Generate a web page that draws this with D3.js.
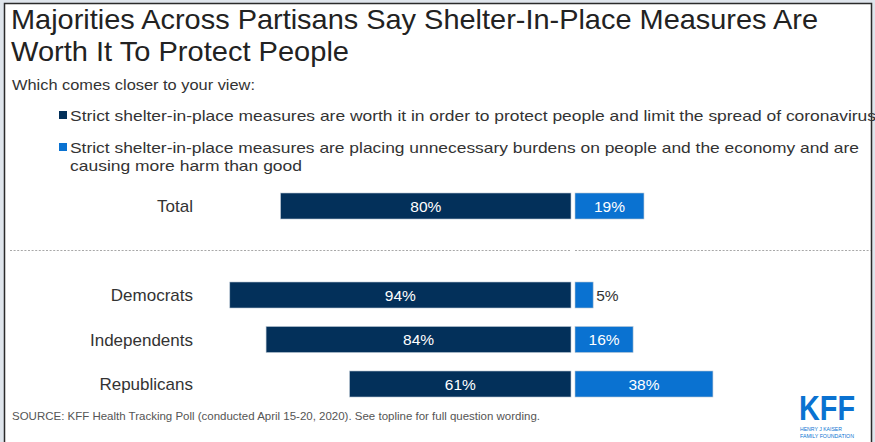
<!DOCTYPE html>
<html><head><meta charset="utf-8">
<script src="https://cdn.jsdelivr.net/npm/d3@7"></script>
<style>
html,body{margin:0;padding:0;background:#dfe5ec;}
svg{display:block;font-family:"Liberation Sans",Arial,sans-serif;}
</style></head>
<body>
<script>
const categories = ["Total", "Democrats", "Independents", "Republicans"];
const worthIt = [80, 94, 84, 61];
const burdens = [19, 5, 16, 38];
const seriesNames = [
  "Strict shelter-in-place measures are worth it in order to protect people and limit the spread of coronavirus",
  "Strict shelter-in-place measures are placing unnecessary burdens on people and the economy and are",
  "causing more harm than good"
];
const titleLines = ["Majorities Across Partisans Say Shelter-In-Place Measures Are", "Worth It To Protect People"];
const subtitle = "Which comes closer to your view:";
const source = "SOURCE: KFF Health Tracking Poll (conducted April 15-20, 2020). See topline for full question wording.";

const W = 875, H = 442;
const dark = "#03305a", light = "#0a72d1";
const svg = d3.select("body").append("svg").attr("width", W).attr("height", H);

// frame
svg.append("rect").attr("x", 4).attr("y", 3).attr("width", 868).attr("height", H).attr("fill", "#fff");
svg.append("path").attr("d", "M4.5,442 V3.5 H871.5 V442").attr("fill", "none").attr("stroke", "#2b2b2b").attr("stroke-width", 1.5);

// title
const tl = [{y: 29, len: 807}, {y: 61, len: 338}];
svg.selectAll("text.title").data(titleLines).join("text").attr("class", "title")
  .attr("x", 11).attr("y", (d, i) => tl[i].y).attr("font-size", 28).attr("fill", "#222")
  .attr("textLength", (d, i) => tl[i].len).attr("lengthAdjust", "spacingAndGlyphs").text(d => d);

svg.append("text").attr("x", 12).attr("y", 90).attr("font-size", 15).attr("fill", "#333")
  .attr("textLength", 243).attr("lengthAdjust", "spacingAndGlyphs").text(subtitle);

// legend
const leg = svg.append("g");
leg.append("rect").attr("x", 59).attr("y", 111).attr("width", 8).attr("height", 8).attr("fill", dark);
leg.append("rect").attr("x", 59).attr("y", 143).attr("width", 8).attr("height", 8).attr("fill", light);
const legY = [121, 153, 171], legLen = [806, 789, 232];
leg.selectAll("text").data(seriesNames).join("text")
  .attr("x", 70).attr("y", (d, i) => legY[i]).attr("font-size", 15).attr("fill", "#333")
  .attr("textLength", (d, i) => legLen[i]).attr("lengthAdjust", "spacingAndGlyphs").text(d => d);

// scales
const slots = ["Total", "__gap", "Democrats", "Independents", "Republicans"];
const y = d3.scaleBand().domain(slots).range([183.75, 183.75 + 5 * 44.5]).paddingInner(18.5 / 44.5).paddingOuter(18.5 / 89);
const x = d3.scaleLinear().domain([0, 100]).range([0, 363]);
const mid = 571, gap = 4;

const rows = categories.map((c, i) => ({c, a: worthIt[i], b: burdens[i]}));

// separator
const gy = y("__gap") + y.bandwidth() / 2;
[[10, mid], [mid + gap, 871]].forEach(([x1, x2]) =>
  svg.append("line").attr("x1", x1).attr("x2", x2).attr("y1", gy).attr("y2", gy)
    .attr("stroke", "#a8a8a8").attr("stroke-width", 1.2).attr("stroke-dasharray", "2,1.6"));

const g = svg.append("g");
g.selectAll("rect.a").data(rows).join("rect").attr("class", "a")
  .attr("x", d => mid - x(d.a)).attr("y", d => y(d.c)).attr("width", d => x(d.a)).attr("height", y.bandwidth())
  .attr("fill", dark).attr("stroke", "#b9c6d3").attr("stroke-width", 0.6);
g.selectAll("rect.b").data(rows).join("rect").attr("class", "b")
  .attr("x", mid + gap).attr("y", d => y(d.c)).attr("width", d => x(d.b)).attr("height", y.bandwidth())
  .attr("fill", light).attr("stroke", "#b9c6d3").attr("stroke-width", 0.6);

g.selectAll("text.la").data(rows).join("text").attr("class", "la")
  .attr("x", d => mid - x(d.a) / 2).attr("y", d => y(d.c) + y.bandwidth() / 2 + 5.5)
  .attr("text-anchor", "middle").attr("font-size", 15.5).attr("fill", "#fff").text(d => d.a + "%");
g.selectAll("text.lb").data(rows).join("text").attr("class", "lb")
  .attr("x", d => d.b < 10 ? mid + gap + x(d.b) + 3 : mid + gap + x(d.b) / 2)
  .attr("y", d => y(d.c) + y.bandwidth() / 2 + 5.5)
  .attr("text-anchor", d => d.b < 10 ? "start" : "middle").attr("font-size", 15.5)
  .attr("fill", d => d.b < 10 ? "#333" : "#fff").text(d => d.b + "%");

g.selectAll("text.cat").data(rows).join("text").attr("class", "cat")
  .attr("x", 193).attr("y", d => y(d.c) + y.bandwidth() / 2 + 6)
  .attr("text-anchor", "end").attr("font-size", 17).attr("fill", "#333").text(d => d.c);

// source
svg.append("text").attr("x", 12).attr("y", 420).attr("font-size", 11).attr("fill", "#555")
  .attr("textLength", 528).attr("lengthAdjust", "spacingAndGlyphs").text(source);

// logo
const logo = svg.append("g");
logo.append("text").attr("x", 799).attr("y", 419.5).attr("font-size", 35).attr("font-weight", "bold")
  .attr("fill", "#0a72d1").attr("textLength", 56).attr("lengthAdjust", "spacingAndGlyphs").text("KFF");
logo.append("text").attr("x", 800).attr("y", 431).attr("font-size", 6).attr("fill", "#0a72d1")
  .attr("textLength", 42).attr("lengthAdjust", "spacingAndGlyphs").text("HENRY J KAISER");
logo.append("text").attr("x", 800).attr("y", 437.5).attr("font-size", 6).attr("fill", "#0a72d1")
  .attr("textLength", 54).attr("lengthAdjust", "spacingAndGlyphs").text("FAMILY FOUNDATION");
</script>
</body></html>
